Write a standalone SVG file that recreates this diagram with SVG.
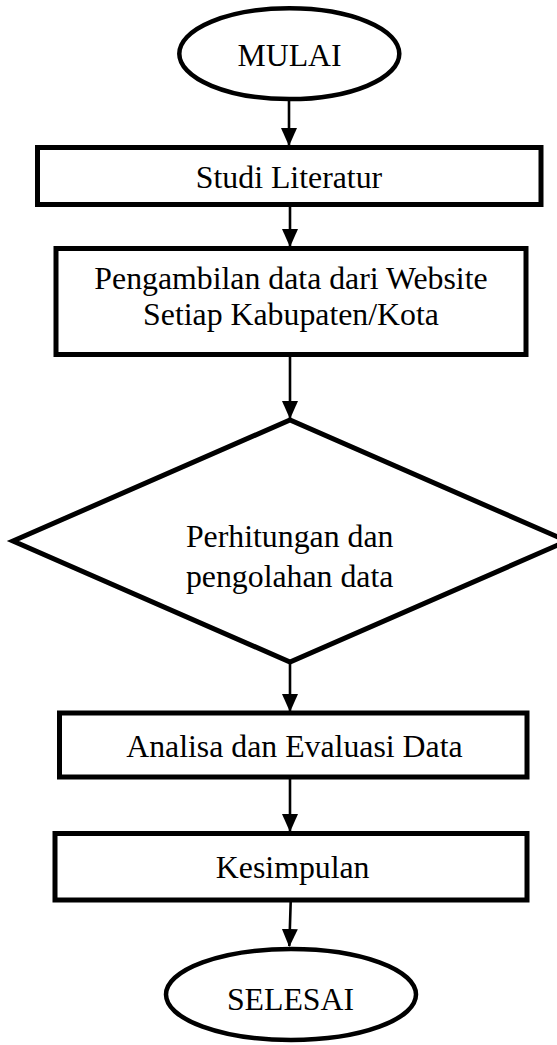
<svg xmlns="http://www.w3.org/2000/svg" width="557" height="1045" viewBox="0 0 557 1045">
<defs>
<style>
.shape{fill:#fff;stroke:#000;stroke-width:5;stroke-linejoin:miter}
.term{fill:#fff;stroke:#000;stroke-width:4.5}
.lbl{font-family:"Liberation Serif","Times New Roman",serif;font-size:31.8px;fill:#000;text-anchor:middle}
.conn{stroke:#000;stroke-width:2.6;fill:none}
</style>
<marker id="ah" markerUnits="userSpaceOnUse" markerWidth="16" markerHeight="18" refX="8" refY="17" orient="auto-start-reverse" viewBox="0 0 16 18">
<path d="M0,0 L16,0 L8,18 Z" fill="#000" transform="rotate(0)"/>
</marker>
<marker id="arr" markerUnits="userSpaceOnUse" markerWidth="18" markerHeight="16" refX="17" refY="8" orient="auto" viewBox="0 0 18 16">
<path d="M0,0 L18,8 L0,16 Z" fill="#000"/>
</marker>
</defs>
<g id="connectors">
<line class="conn" x1="289" y1="99" x2="289" y2="145" marker-end="url(#arr)"/>
<line class="conn" x1="290" y1="207" x2="290" y2="246" marker-end="url(#arr)"/>
<line class="conn" x1="290" y1="357" x2="290" y2="418" marker-end="url(#arr)"/>
<line class="conn" x1="290" y1="664" x2="290" y2="711" marker-end="url(#arr)"/>
<line class="conn" x1="290" y1="779" x2="290" y2="831" marker-end="url(#arr)"/>
<line class="conn" x1="290.7" y1="902" x2="289.3" y2="946" marker-end="url(#arr)"/>
</g>
<g id="mulai">
<ellipse class="term" cx="289.3" cy="53.7" rx="110" ry="45.4"/>
<text class="lbl" x="289.5" y="65.7">MULAI</text>
</g>
<g id="studi-literatur">
<rect class="shape" x="37.5" y="147.5" width="503.5" height="57"/>
<text class="lbl" x="289" y="187.7">Studi Literatur</text>
</g>
<g id="pengambilan-data">
<rect class="shape" x="56" y="248.5" width="470" height="106"/>
<text class="lbl" x="291" y="289">Pengambilan data dari Website</text>
<text class="lbl" x="291" y="324.5">Setiap Kabupaten/Kota</text>
</g>
<g id="perhitungan">
<polygon class="shape" points="13,541 290,420 567,541 290,662"/>
<text class="lbl" x="289.7" y="547.4">Perhitungan dan</text>
<text class="lbl" x="289.7" y="587">pengolahan data</text>
</g>
<g id="analisa">
<rect class="shape" x="59.5" y="713" width="467.5" height="64"/>
<text class="lbl" x="294.4" y="756.7">Analisa dan Evaluasi Data</text>
</g>
<g id="kesimpulan">
<rect class="shape" x="55" y="833.5" width="472" height="66.5"/>
<text class="lbl" x="292.7" y="878.3">Kesimpulan</text>
</g>
<g id="selesai">
<ellipse class="term" cx="291" cy="994.5" rx="125" ry="45.5"/>
<text class="lbl" x="290.5" y="1010">SELESAI</text>
</g>
</svg>
